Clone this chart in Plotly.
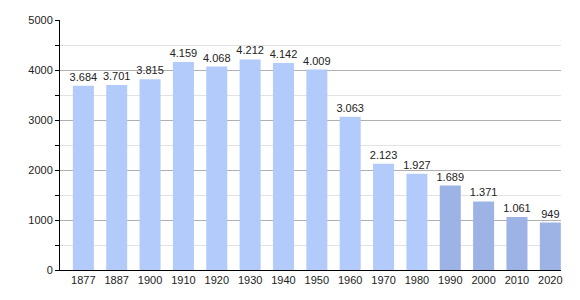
import plotly.graph_objects as go

years = ["1877", "1887", "1900", "1910", "1920", "1930", "1940", "1950",
         "1960", "1970", "1980", "1990", "2000", "2010", "2020"]
population = [3684, 3701, 3815, 4159, 4068, 4212, 4142, 4009,
              3063, 2123, 1927, 1689, 1371, 1061, 949]
y_ticks = [0, 1000, 2000, 3000, 4000, 5000]

light = "#b3cbfa"
dark = "#9db3e6"
colors = [light if int(y) < 1990 else dark for y in years]
labels = [f"{v:,}".replace(",", ".") for v in population]
xpos = list(range(len(years)))

fig = go.Figure(go.Bar(
    x=xpos, y=population, marker_color=colors, marker_line_width=0,
    text=labels, textposition="outside", cliponaxis=False,
    constraintext="none",
    textfont=dict(family="Liberation Sans, Arial", size=11, color="#222"),
    width=0.63,
))

fig.update_layout(
    width=580, height=300,
    margin=dict(l=60, r=19, t=20, b=30),
    plot_bgcolor="white", paper_bgcolor="white",
    showlegend=False,
    font=dict(family="Liberation Sans, Arial", size=11, color="#222"),
    xaxis=dict(
        range=[-0.7, 14.32], tickvals=xpos, ticktext=years,
        showgrid=False, showline=True, linecolor="black", linewidth=1,
        ticks="", zeroline=False, tickfont=dict(size=11, color="#222"),
    ),
    yaxis=dict(
        range=[0, 5000], tickvals=y_ticks, showgrid=True, gridcolor="#b0b0b0",
        gridwidth=1, showline=True, linecolor="black", linewidth=1,
        ticks="outside", ticklen=4, tickcolor="black", zeroline=False,
        tickfont=dict(size=11, color="#222"), tickformat="d",
        minor=dict(dtick=500, tick0=0, showgrid=True, gridcolor="#e2e2e2",
                   ticks="outside", ticklen=4, tickcolor="black"),
    ),
)

fig.write_html("out.html")
